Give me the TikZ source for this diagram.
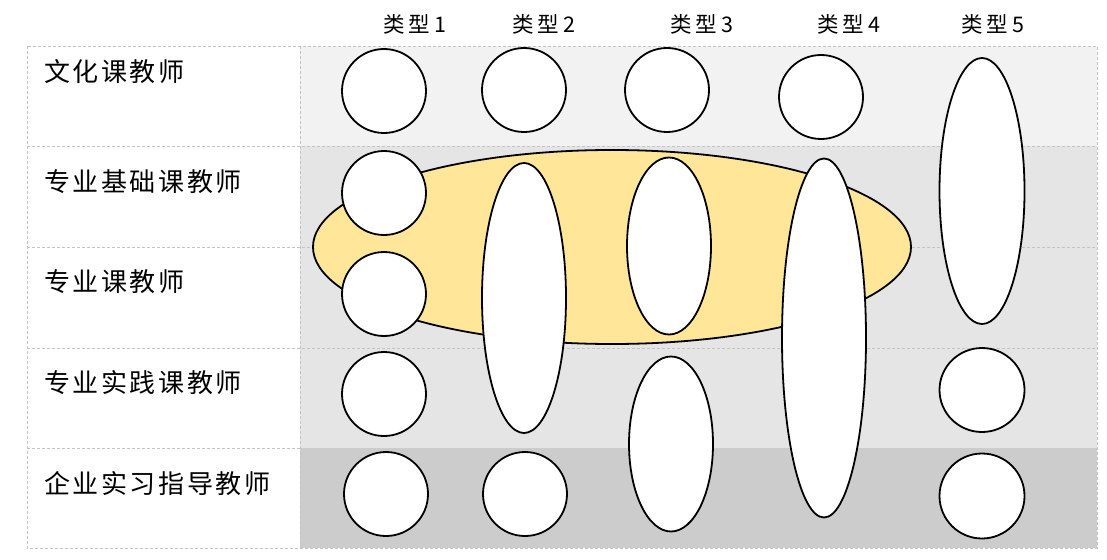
\documentclass[tikz,border=0pt]{standalone}
\usepackage{fontspec}
\setmainfont{Noto Sans CJK SC}
\newfontfamily\lblfont[LetterSpace=10]{Noto Sans CJK SC}
\newfontfamily\hdfont[LetterSpace=20]{Noto Sans CJK SC}
\usetikzlibrary{shapes.geometric}
\definecolor{rowA}{HTML}{F2F2F2}
\definecolor{rowB}{HTML}{E5E5E5}
\definecolor{rowC}{HTML}{CCCCCC}
\definecolor{gold}{HTML}{FFE699}
\definecolor{gridc}{HTML}{C4C4C4}
\tikzset{
  blob/.style={ellipse, draw=black, line width=1.8pt, fill=white, inner sep=0pt},
  big/.style={ellipse, draw=black, line width=1.8pt, fill=gold, inner sep=0pt},
  rowlabel/.style={anchor=west, font=\lblfont\fontsize{26}{30}\selectfont, inner sep=0pt},
  head/.style={anchor=west, font=\hdfont\fontsize{21.5}{25}\selectfont, inner sep=0pt},
  grid/.style={draw=gridc, dashed, line width=0.6pt, dash pattern=on 3pt off 2pt}
}
\begin{document}
\begin{tikzpicture}[x=1pt,y=-1pt]
\useasboundingbox (0,0) rectangle (1107,559);
\fill[white] (0,0) rectangle (1107,559);
% row backgrounds
\fill[rowA] (300,46) rectangle (1097,146);
\fill[rowB] (300,146) rectangle (1097,448);
\fill[rowC] (300,448) rectangle (1097,548);
% grid
\draw[grid] (27,46) rectangle (1097,548);
\draw[grid] (300,46) -- (300,548);
\draw[grid] (27,146) -- (1097,146);
\draw[grid] (27,247) -- (1097,247);
\draw[grid] (27,348) -- (1097,348);
\draw[grid] (27,448) -- (300,448);
% headers
\node[head] (h1) at (383,24) {类型1};
\node[head] (h2) at (512,24) {类型2};
\node[head] (h3) at (670,24) {类型3};
\node[head] (h4) at (817,24) {类型4};
\node[head] (h5) at (961,24) {类型5};
% row labels
\node[rowlabel] (r1) at (44,72) {文化课教师};
\node[rowlabel] (r2) at (44,182) {专业基础课教师};
\node[rowlabel] (r3) at (44,282) {专业课教师};
\node[rowlabel] (r4) at (44,383) {专业实践课教师};
\node[rowlabel] (r5) at (44,484) {企业实习指导教师};
% big yellow ellipse
\node[big, minimum width=598pt, minimum height=194pt] (y) at (612,247) {};
% column 1
\node[blob, minimum width=84pt, minimum height=84pt] (c11) at (384,91) {};
\node[blob, minimum width=84pt, minimum height=84pt] (c12) at (384,193) {};
\node[blob, minimum width=84pt, minimum height=84pt] (c13) at (384,294) {};
\node[blob, minimum width=84pt, minimum height=84pt] (c14) at (384,394) {};
\node[blob, minimum width=84pt, minimum height=84pt] (c15) at (386,494) {};
% column 2
\node[blob, minimum width=84pt, minimum height=84pt] (c21) at (524,90) {};
\node[blob, minimum width=84pt, minimum height=270pt] (c22) at (524,298) {};
\node[blob, minimum width=84pt, minimum height=84pt] (c25) at (525,494) {};
% column 3
\node[blob, minimum width=84pt, minimum height=84pt] (c31) at (667,90) {};
\node[blob, minimum width=84pt, minimum height=177pt] (c32) at (669,246) {};
\node[blob, minimum width=84pt, minimum height=175pt] (c34) at (671,444) {};
% column 4
\node[blob, minimum width=84pt, minimum height=84pt] (c41) at (821,97) {};
\node[blob, minimum width=84pt, minimum height=359pt] (c42) at (824,338) {};
% column 5
\node[blob, minimum width=85pt, minimum height=266pt] (c51) at (982,191) {};
\node[blob, minimum width=85pt, minimum height=84pt] (c54) at (982,390) {};
\node[blob, minimum width=85pt, minimum height=85pt] (c55) at (982,496) {};
\end{tikzpicture}
\end{document}
